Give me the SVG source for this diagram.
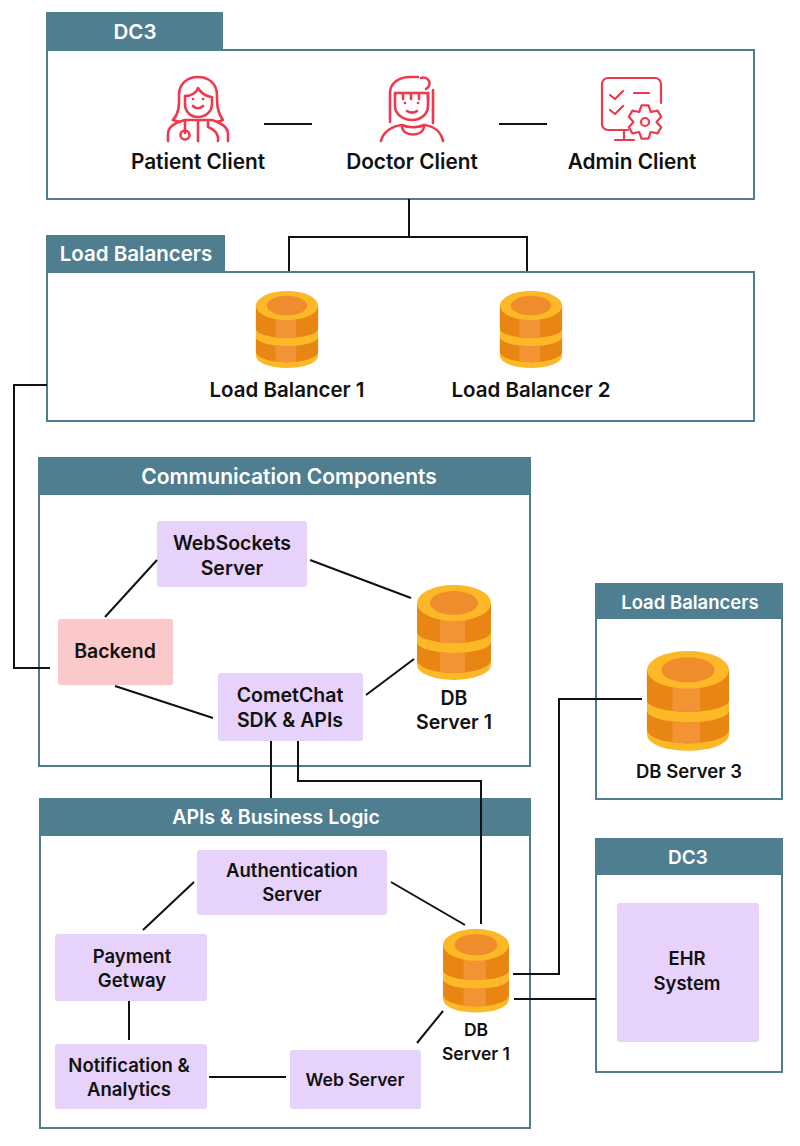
<svg xmlns="http://www.w3.org/2000/svg" width="800" height="1146" viewBox="0 0 800 1146">
<style>
text{font-family:Inter,"Noto Sans","Liberation Sans",sans-serif;font-weight:600;text-anchor:middle}
.panel{fill:#fff;stroke:#4f7d8f;stroke-width:2}
.head{fill:#4f7e90}
.ht{fill:#fff;font-size:20.500px}
.hs{fill:#fff;font-size:18.500px}
.lb{fill:#111;font-size:20.800px}
.nt{fill:#111;font-size:19.500px}
.ns{fill:#111;font-size:18.500px}
.box{fill:#e6d2fa}
.ic{fill:none;stroke:#f0384e;stroke-width:2.600;stroke-linecap:round;stroke-linejoin:round}
.ia{fill:none;stroke:#f0384e;stroke-width:2.200;stroke-linecap:round;stroke-linejoin:round}
.con line,.con path{fill:none;stroke:#111;stroke-width:2}
</style>
<defs>
<g id="db">
<path d="M-37 18V80A37 15 0 0 0 37 80V18Z" fill="#fdb827"/>
<path d="M-37 18V47A37 11 0 0 0 37 47V18Z" fill="#e98512"/>
<path d="M-37 57V75A37 13 0 0 0 37 75V57A37 11 0 0 1-37 57Z" fill="#e98512"/>
<path d="M-14 20H11V57.500Q-1 58.500-14 57Z" fill="#f29433"/>
<path d="M-14 67Q-1 68.500 11 67.500V87.300Q-1 88.500-14 87Z" fill="#f29433"/>
<ellipse cx="0" cy="18" rx="37" ry="18" fill="#fdb827"/>
<ellipse cx="0" cy="18" rx="24" ry="12" fill="#ef8d2c"/>
</g>
</defs>
<rect width="800" height="1146" fill="#fff"/>
<g id="dc3-top">
<rect class="panel" x="47" y="50" width="707" height="149"/>
<rect class="head" x="46" y="12" width="177" height="38"/>
<text class="ht" x="135" y="39">DC3</text>
</g>
<g id="patient-client">
<path class="ic" d="M173 120C180 112 179 103 179 95C179 84 187 77 198 77C209 77 217 84 217 95C217 103 217 112 223 120L217 122"/>
<path class="ic" d="M173 120L180 122M185 96C192 96 197 92 198 88C201 93 206 96 211 97"/>
<path class="ic" d="M185 96V104C185 112 191 117 198 117C205 117 212 112 212 104V97"/>
<path class="ic" d="M168 141V134C168 126 177 122 185 120H212C220 122 228 127 228 134V141M198 121V141M185 120V133M208 120V127C214 129 219 134 218 141"/>
<circle class="ic" cx="185" cy="135" r="4.500"/>
<path class="ic" d="M193 99h.1M203 99h.1M193 106C196 109 200 109 203 106"/>
<text class="lb" x="198" y="169">Patient Client</text>
</g>
<g id="doctor-client">
<path class="ic" d="M390 122V93C390 83 399 77 410 77H418"/>
<path class="ic" d="M421 78A5.500 5.500 0 1 1 426 89"/>
<path class="ic" d="M395 93H428M433 90V123M403 93V99M411 93V99M419 93V99M428 93V99"/>
<path class="ic" d="M395 93V106C395 114 403 120 412 120C421 120 428 114 428 106V93"/>
<path class="ic" d="M381 141C383 132 392 126 402 125C408 128 418 128 424 125C434 126 441 132 443 141M402 127C404 137 422 137 424 127"/>
<path class="ic" d="M405 103h.1M418 103h.1M407 111C410 113 414 113 417 111"/>
<text class="lb" x="412" y="169">Doctor Client</text>
</g>
<g id="admin-client">
<path class="ia" d="M661 103V84A6 6 0 0 0 655 78H608A6 6 0 0 0 602 84V124A6 6 0 0 0 608 130H628M624 130V140M615 140H634"/>
<path class="ia" d="M610 95L615 99L623 91M610 110L615 114L623 106M634 93H649"/>
<polygon class="ia" points="641.500,105.400 648.500,105.400 650.750,112 657.600,110.600 661.200,116.750 656.500,122 661.200,127.250 657.600,133.400 650.750,132 648.500,138.600 641.500,138.600 639.250,132 632.400,133.400 628.800,127.250 633.500,122 628.800,116.750 632.400,110.600 639.250,112"/>
<circle class="ia" cx="645" cy="122" r="4"/>
<text class="lb" x="632" y="169">Admin Client</text>
</g>
<g id="load-balancers">
<rect class="panel" x="47" y="272" width="707" height="149"/>
<rect class="head" x="46" y="235" width="179" height="37"/>
<text class="ht" x="136" y="261">Load Balancers</text>
</g>
<g id="load-balancer-1">
<use href="#db" transform="translate(287 291) scale(.84 .81)"/>
<text class="lb" x="287" y="397" style="font-size:20.500px">Load Balancer 1</text>
</g>
<g id="load-balancer-2">
<use href="#db" transform="translate(531 291) scale(.84 .81)"/>
<text class="lb" x="531" y="397" style="font-size:20.500px">Load Balancer 2</text>
</g>
<g id="communication-components">
<rect class="panel" x="39" y="494" width="491" height="272"/>
<rect class="head" x="38" y="457" width="493" height="37"/>
<text class="ht" x="289" y="484" style="font-size:21px">Communication Components</text>
</g>
<g id="websockets-server">
<rect class="box" x="157" y="521" width="150" height="66" rx="3"/>
<text class="nt" x="232" y="550">WebSockets</text>
<text class="nt" x="232" y="575">Server</text>
</g>
<g id="backend">
<rect x="58" y="619" width="115" height="66" rx="3" fill="#fbc9c9"/>
<text class="nt" x="115" y="658">Backend</text>
</g>
<g id="cometchat">
<rect class="box" x="218" y="673" width="145" height="68" rx="3"/>
<text class="nt" x="290" y="702">CometChat</text>
<text class="nt" x="290" y="727">SDK &amp; APIs</text>
</g>
<g id="db-server-1-comm">
<use href="#db" transform="translate(454 585)"/>
<text class="nt" x="454" y="705">DB</text>
<text class="nt" x="454" y="729">Server 1</text>
</g>
<g id="lb-right">
<rect class="panel" x="596" y="618" width="186" height="181"/>
<rect class="head" x="595" y="583" width="188" height="35"/>
<text class="hs" x="690" y="609">Load Balancers</text>
</g>
<g id="db-server-3">
<use href="#db" transform="translate(688 651) scale(1.11 1.05)"/>
<text class="ns" x="689" y="778">DB Server 3</text>
</g>
<g id="apis-business-logic">
<rect class="panel" x="40" y="835" width="490" height="293"/>
<rect class="head" x="39" y="798" width="492" height="37"/>
<text class="ht" x="276" y="824" style="font-size:19.500px">APIs &amp; Business Logic</text>
</g>
<g id="authentication-server">
<rect class="box" x="197" y="850" width="190" height="65" rx="3"/>
<text class="ns" x="292" y="877">Authentication</text>
<text class="ns" x="292" y="901">Server</text>
</g>
<g id="payment-getway">
<rect class="box" x="55" y="934" width="152" height="67" rx="3"/>
<text class="ns" x="132" y="963">Payment</text>
<text class="ns" x="132" y="987">Getway</text>
</g>
<g id="notification-analytics">
<rect class="box" x="55" y="1044" width="152" height="65" rx="3"/>
<text class="ns" x="129" y="1072">Notification &amp;</text>
<text class="ns" x="129" y="1096">Analytics</text>
</g>
<g id="web-server">
<rect class="box" x="290" y="1050" width="131" height="59" rx="3"/>
<text class="ns" x="355" y="1086" style="font-size:17.500px">Web Server</text>
</g>
<g id="db-server-1-api">
<use href="#db" transform="translate(476 929) scale(.89 .88)"/>
<text class="ns" x="476" y="1036" style="font-size:17.500px">DB</text>
<text class="ns" x="476" y="1060" style="font-size:17.500px">Server 1</text>
</g>
<g id="dc3-right">
<rect class="panel" x="596" y="874" width="186" height="198"/>
<rect class="head" x="595" y="838" width="188" height="36"/>
<text class="hs" x="688" y="864" style="font-size:19px">DC3</text>
</g>
<g id="ehr-system">
<rect class="box" x="617" y="903" width="142" height="139" rx="3"/>
<text class="ns" x="687" y="965">EHR</text>
<text class="ns" x="687" y="990">System</text>
</g>
<g id="connectors" class="con">
<line x1="264" y1="124" x2="312" y2="124"/>
<line x1="499" y1="124" x2="547" y2="124"/>
<line x1="409" y1="199" x2="409" y2="237"/>
<path d="M289 271V237H527V271"/>
<path d="M47 385H14V668H50"/>
<line x1="105" y1="617" x2="157" y2="560"/>
<line x1="310" y1="560" x2="411" y2="598"/>
<line x1="115" y1="686" x2="213" y2="718"/>
<line x1="366" y1="695" x2="414" y2="659"/>
<line x1="271" y1="741" x2="271" y2="798"/>
<path d="M298 741V781H481V924"/>
<line x1="194" y1="882" x2="143" y2="930"/>
<line x1="391" y1="882" x2="465" y2="925"/>
<line x1="129" y1="1001" x2="129" y2="1040"/>
<line x1="209" y1="1077" x2="286" y2="1077"/>
<line x1="417" y1="1043" x2="443" y2="1011"/>
<path d="M513 974H559V699H642"/>
<line x1="514" y1="999" x2="596" y2="999"/>
</g>
</svg>
